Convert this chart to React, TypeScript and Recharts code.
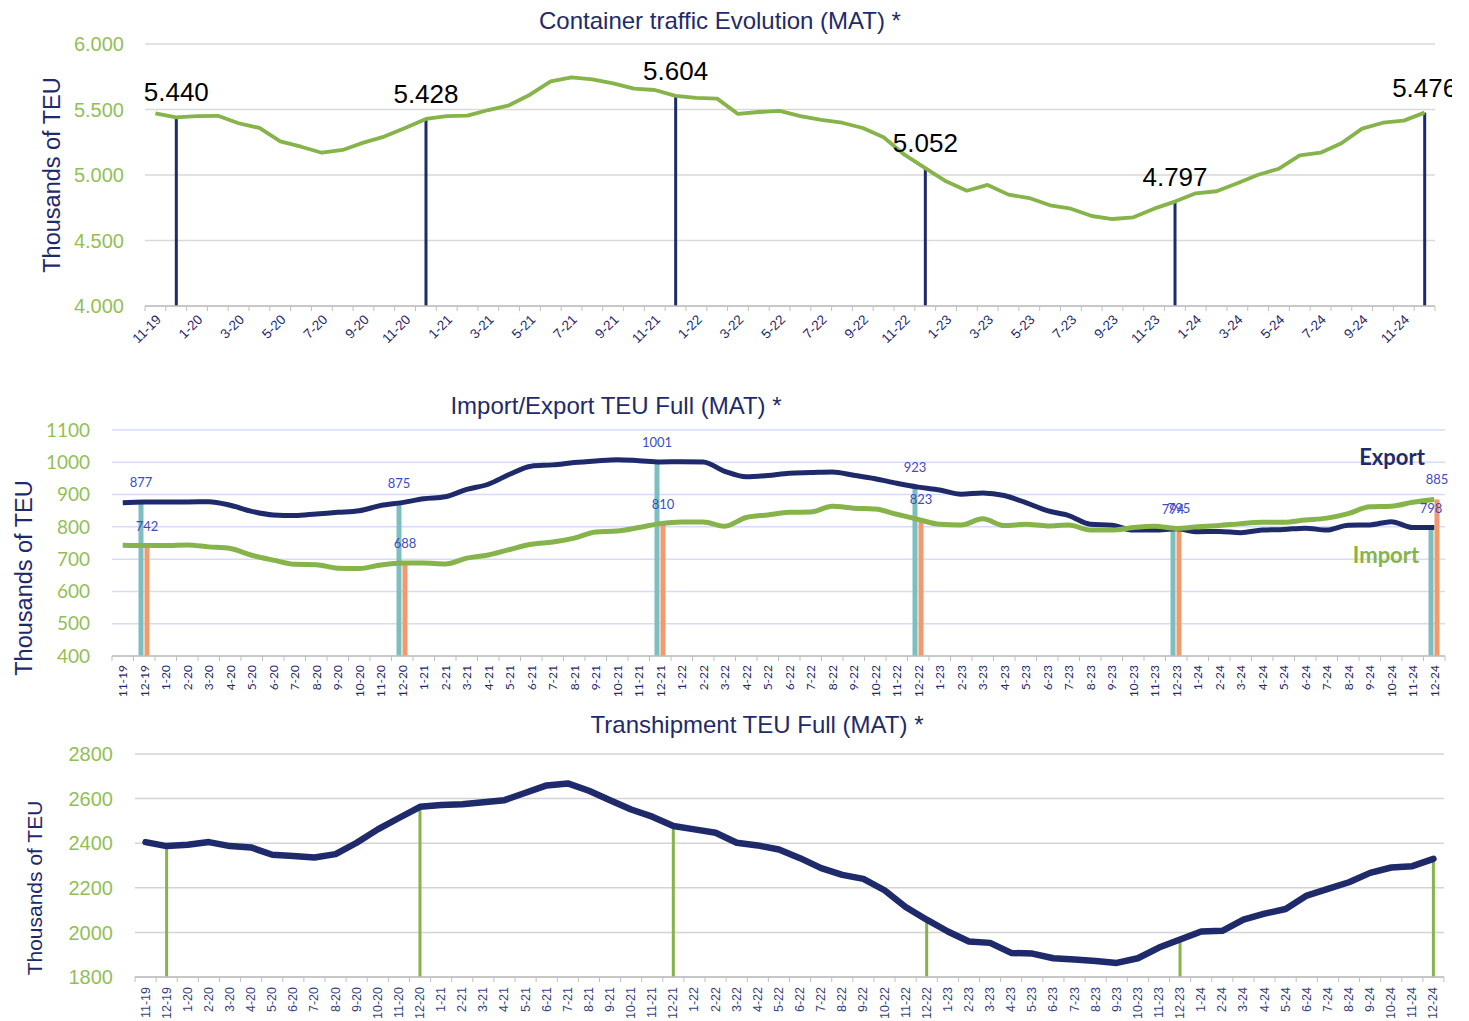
import React from 'react';
import { ComposedChart, Bar, Line, XAxis, YAxis, CartesianGrid, LabelList } from 'recharts';

const months = [
  '11-19', '12-19',
  '1-20', '2-20', '3-20', '4-20', '5-20', '6-20', '7-20', '8-20', '9-20', '10-20', '11-20', '12-20',
  '1-21', '2-21', '3-21', '4-21', '5-21', '6-21', '7-21', '8-21', '9-21', '10-21', '11-21', '12-21',
  '1-22', '2-22', '3-22', '4-22', '5-22', '6-22', '7-22', '8-22', '9-22', '10-22', '11-22', '12-22',
  '1-23', '2-23', '3-23', '4-23', '5-23', '6-23', '7-23', '8-23', '9-23', '10-23', '11-23', '12-23',
  '1-24', '2-24', '3-24', '4-24', '5-24', '6-24', '7-24', '8-24', '9-24', '10-24', '11-24', '12-24',
];
const decMonths = ['12-19', '12-20', '12-21', '12-22', '12-23', '12-24'];

// total container traffic, thousands of TEU (MAT)
const totalTeu = [
  5471, 5440, 5450, 5452, 5395, 5359, 5257, 5216, 5170, 5191, 5247, 5293, 5359, 5428,
  5450, 5453, 5496, 5532, 5613, 5715, 5746, 5730, 5700, 5659, 5649, 5604,
  5588, 5583, 5466, 5481, 5489, 5450, 5420, 5399, 5359, 5288, 5155, 5052,
  4952, 4880, 4924, 4850, 4824, 4769, 4743, 4687, 4664, 4677, 4743, 4797,
  4860, 4876, 4937, 5002, 5048, 5150, 5170, 5242, 5354, 5399, 5415, 5476,
];
const decTotal = [5440, 5428, 5604, 5052, 4797, 5476];

const exportTeu = [
  875, 877, 877, 877, 878, 867, 848, 837, 835, 840, 845, 850, 866, 875,
  887, 893, 916, 932, 963, 988, 992, 999, 1004, 1008, 1005, 1001,
  1002, 1001, 972, 955, 959, 966, 968, 970, 960, 949, 935, 923,
  914, 901, 905, 897, 875, 850, 835, 808, 805, 790, 790, 794,
  785, 786, 782, 790, 792, 796, 790, 805, 806, 816, 798, 798,
];
const importTeu = [
  743, 742, 742, 744, 738, 733, 712, 697, 684, 683, 672, 671, 682, 688,
  688, 685, 703, 713, 730, 746, 753, 765, 784, 787, 798, 810,
  815, 815, 802, 829, 837, 845, 846, 864, 858, 855, 839, 823,
  808, 806, 825, 804, 808, 803, 806, 790, 790, 798, 802, 795,
  800, 804, 810, 814, 814, 821, 827, 841, 862, 864, 876, 885,
];
const decExport = [877, 875, 1001, 923, 794, 798];
const decImport = [742, 688, 810, 823, 795, 885];

const transhipTeu = [
  2405, 2387, 2393, 2405, 2387, 2381, 2348, 2343, 2336, 2351, 2402, 2462, 2513, 2563,
  2571, 2575, 2584, 2593, 2626, 2659, 2668, 2635, 2593, 2551, 2519, 2477,
  2462, 2447, 2402, 2390, 2372, 2333, 2288, 2258, 2240, 2189, 2114, 2057,
  2004, 1959, 1953, 1908, 1905, 1884, 1878, 1872, 1863, 1884, 1932, 1968,
  2004, 2007, 2057, 2084, 2105, 2165, 2195, 2225, 2267, 2291, 2297, 2330,
];
const decTranship = [2387, 2563, 2477, 2057, 1968, 2330];

const totalTicks = [4000, 4500, 5000, 5500, 6000];
const tradeTicks = [400, 500, 600, 700, 800, 900, 1000, 1100];
const transhipTicks = [1800, 2000, 2200, 2400, 2600, 2800];

const dec = (arr: number[], m: string) => {
  const k = decMonths.indexOf(m);
  return k >= 0 ? arr[k] : null;
};

const totalRows = months.map((m, i) => ({ month: m, total: totalTeu[i], totalBar: dec(decTotal, m) }));
const tradeRows = months.map((m, i) => ({
  month: m,
  exp: exportTeu[i],
  imp: importTeu[i],
  expBar: dec(decExport, m),
  impBar: dec(decImport, m),
}));
const transhipRows = months.map((m, i) => ({ month: m, tranship: transhipTeu[i], transhipBar: dec(decTranship, m) }));

const NAVY = '#1f2a6b';
const GREEN = '#86b34a';
const GREEN_TXT = '#92bf55';
const TEAL = '#7dbfc0';
const ORANGE = '#f29a6b';
const LBL_BLUE = '#3b4dc4';
const ARIAL = "'Liberation Sans', Arial, sans-serif";
const CALIBRI = "Lato, 'Liberation Sans', sans-serif";

const fmtK = (v: any) => (Number(v) / 1000).toFixed(3);

// tick with marks on category boundaries
const makeTick = (bw: number, render: (x: number, y: number, v: string, i: number) => React.ReactNode) =>
  (props: any) => {
    const { x, y, payload } = props;
    const i = props.index ?? months.indexOf(payload.value);
    return (
      <g>
        <line x1={x - bw / 2} x2={x - bw / 2} y1={y} y2={y + 5} stroke="#bfbfbf" />
        {i === months.length - 1 && <line x1={x + bw / 2} x2={x + bw / 2} y1={y} y2={y + 5} stroke="#bfbfbf" />}
        {render(x, y, payload.value, i)}
      </g>
    );
  };

const TotalTick = makeTick(1290 / 62, (x, y, v, i) =>
  i % 2 === 0 ? (
    <text transform={`translate(${x + 3},${y + 11}) rotate(-45)`} textAnchor="end" dy="0.35em"
      fontSize={13.5} fill={NAVY} fontFamily={ARIAL}>{v}</text>
  ) : null
);
const TradeTick = makeTick(1333 / 62, (x, y, v) => (
  <text transform={`translate(${x},${y + 9}) rotate(-90)`} textAnchor="end" dominantBaseline="central"
    fontSize={12} fill={NAVY} fontFamily={CALIBRI}>{v}</text>
));
const TranshipTick = makeTick(1309 / 62, (x, y, v) => (
  <text transform={`translate(${x},${y + 10}) rotate(-90)`} textAnchor="end" dominantBaseline="central"
    fontSize={12.5} fill="#34437a" fontFamily={ARIAL}>{v}</text>
));

const topLabel = (color: string, size: number, family: string, offset: number, fmt: (v: any) => string) =>
  (p: any) => {
    const { value } = p;
    if (value == null) return null;
    const x = p.x ?? p.viewBox?.x;
    const y = p.y ?? p.viewBox?.y;
    const w = p.width ?? p.viewBox?.width ?? 0;
    return (
      <text x={x + w / 2} y={y - offset} textAnchor="middle" fill={color} fontSize={size} fontFamily={family}>
        {fmt(value)}
      </text>
    );
  };

export default function App() {
  return (
    <div style={{ position: 'relative', width: 1469, height: 1021, overflow: 'hidden', background: '#fff' }}>
      <style>{'body{margin:0}'}</style>

      <div style={{ position: 'absolute', left: 0, top: 0, width: 1452, height: 350, overflow: 'hidden' }}>
        <ComposedChart width={1452} height={350} data={totalRows} margin={{ top: 44, right: 17, bottom: 0, left: 0 }}>
          <CartesianGrid vertical={false} stroke="#d9d9d9" strokeWidth={1.5} />
          <XAxis dataKey="month" interval={0} height={44} tickSize={0} tickMargin={0}
            axisLine={{ stroke: '#bfbfbf', strokeWidth: 1.5 }} tickLine={false} tick={TotalTick} />
          <YAxis width={145} domain={[4000, 6000]} ticks={totalTicks} tickFormatter={fmtK}
            axisLine={false} tickLine={false} tickSize={0} tickMargin={21}
            tick={{ fill: GREEN_TXT, fontSize: 20, fontFamily: ARIAL }} />
          <Bar dataKey="totalBar" fill={NAVY} barSize={3} isAnimationActive={false}>
            <LabelList dataKey="totalBar" content={topLabel('#000', 26, ARIAL, 16, fmtK)} />
          </Bar>
          <Line dataKey="total" stroke={GREEN} strokeWidth={3.8} dot={false} type="linear"
            strokeLinejoin="round" isAnimationActive={false} />
        </ComposedChart>
      </div>

      <div style={{ position: 'absolute', left: 0, top: 380 }}>
        <ComposedChart width={1469} height={330} data={tradeRows} barGap={1}
          margin={{ top: 50, right: 24, bottom: 0, left: 0 }}>
          <CartesianGrid vertical={false} stroke="#d8dcf3" strokeWidth={1.5} />
          <XAxis dataKey="month" interval={0} height={54} tickSize={0} tickMargin={0}
            axisLine={{ stroke: '#bfbfbf', strokeWidth: 1.5 }} tickLine={false} tick={TradeTick} />
          <YAxis width={112} domain={[400, 1100]} ticks={tradeTicks}
            axisLine={false} tickLine={false} tickSize={0} tickMargin={22}
            tick={{ fill: GREEN_TXT, fontSize: 19, fontFamily: CALIBRI }} />
          <Bar dataKey="expBar" fill={TEAL} barSize={5} isAnimationActive={false}>
            <LabelList dataKey="expBar" content={topLabel(LBL_BLUE, 13, CALIBRI, 15, (v) => String(v))} />
          </Bar>
          <Bar dataKey="impBar" fill={ORANGE} barSize={5} isAnimationActive={false}>
            <LabelList dataKey="impBar" content={topLabel(LBL_BLUE, 13, CALIBRI, 15, (v) => String(v))} />
          </Bar>
          <Line dataKey="exp" stroke={NAVY} strokeWidth={5} dot={false} type="monotone"
            strokeLinejoin="round" isAnimationActive={false} />
          <Line dataKey="imp" stroke={GREEN} strokeWidth={5} dot={false} type="monotone"
            strokeLinejoin="round" isAnimationActive={false} />
        </ComposedChart>
      </div>

      <div style={{ position: 'absolute', left: 0, top: 700 }}>
        <ComposedChart width={1469} height={321} data={transhipRows} margin={{ top: 54, right: 25, bottom: 0, left: 0 }}>
          <CartesianGrid vertical={false} stroke="#d4d4d4" strokeWidth={1.5} />
          <XAxis dataKey="month" interval={0} height={44} tickSize={0} tickMargin={0}
            axisLine={{ stroke: '#bfbfbf', strokeWidth: 1.5 }} tickLine={false} tick={TranshipTick} />
          <YAxis width={135} domain={[1800, 2800]} ticks={transhipTicks}
            axisLine={false} tickLine={false} tickSize={0} tickMargin={22}
            tick={{ fill: GREEN_TXT, fontSize: 20, fontFamily: ARIAL }} />
          <Bar dataKey="transhipBar" fill={GREEN} barSize={3} isAnimationActive={false} />
          <Line dataKey="tranship" stroke={NAVY} strokeWidth={6.5} dot={false} type="linear"
            strokeLinejoin="round" strokeLinecap="round" isAnimationActive={false} />
        </ComposedChart>
      </div>

      <svg width={1469} height={1021} style={{ position: 'absolute', left: 0, top: 0, pointerEvents: 'none' }}>
        <g fontFamily={ARIAL} fill={NAVY}>
          <text x={720} y={29} textAnchor="middle" fontSize={24}>Container traffic Evolution (MAT) *</text>
          <text x={616} y={414} textAnchor="middle" fontSize={24}>Import/Export TEU Full (MAT) *</text>
          <text x={757} y={733} textAnchor="middle" fontSize={24}>Transhipment TEU Full (MAT) *</text>
          <text transform="translate(52,175) rotate(-90)" textAnchor="middle" dominantBaseline="central" fontSize={23.5}>
            Thousands of TEU
          </text>
          <text transform="translate(24,578) rotate(-90)" textAnchor="middle" dominantBaseline="central" fontSize={23.5}>
            Thousands of TEU
          </text>
          <text transform="translate(34,888) rotate(-90)" textAnchor="middle" dominantBaseline="central" fontSize={21}>
            Thousands of TEU
          </text>
        </g>
        <text x={1392} y={465} textAnchor="middle" fontSize={22} fontWeight={700} fill={NAVY} fontFamily={CALIBRI}>Export</text>
        <text x={1386} y={563} textAnchor="middle" fontSize={22} fontWeight={700} fill={GREEN} fontFamily={CALIBRI}>Import</text>
      </svg>
    </div>
  );
}
